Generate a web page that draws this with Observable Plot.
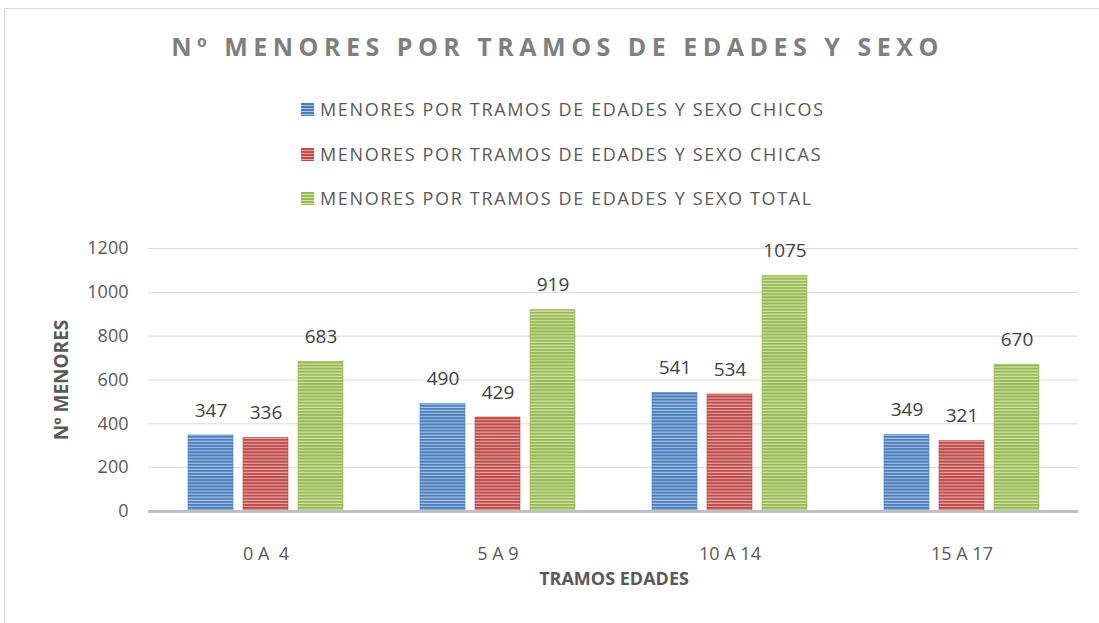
<!DOCTYPE html>
<html>
<head>
<meta charset="utf-8">
<script src="https://cdn.jsdelivr.net/npm/d3@7"></script>
<script src="https://cdn.jsdelivr.net/npm/@observablehq/plot@0.6"></script>
<style>
  html, body { margin: 0; padding: 0; background: #fff; }
  body { width: 1099px; height: 623px; position: relative; overflow: hidden; font-family: "Open Sans", sans-serif; }
  #frame { position: absolute; left: 4px; top: 8px; width: 1200px; height: 700px; border: 1px solid #d9d9d9; box-sizing: border-box; }
  #title { position: absolute; top: 29px; left: 0; width: 1115px; text-align: center; font-size: 25px; font-weight: bold; letter-spacing: 5.5px; color: #7f7f7f; }
  #legend { position: absolute; left: 301px; top: 96px; }
  .item { height: 44.5px; display: flex; align-items: flex-start; font-size: 18px; letter-spacing: 1.65px; color: #595959; line-height: 26px; }
  .sw { width: 13px; height: 13px; margin-right: 6px; margin-top: 7px; }
  #grid, #chart { position: absolute; left: 0; top: 225px; }
  svg g[aria-label="fx-axis label"] text, svg g[aria-label="y-axis label"] text { font-weight: bold; }
  svg g[aria-label="y-axis label"] text { font-size: 19px; }
</style>
</head>
<body>
<div id="frame"></div>
<div id="title">Nº MENORES POR TRAMOS DE EDADES Y SEXO</div>
<div id="legend"></div>
<div id="grid"></div>
<div id="chart"></div>
<script>
const groups = ["0 A  4", "5 A 9", "10 A 14", "15 A 17"];
const series = [
  "MENORES POR TRAMOS DE EDADES Y SEXO CHICOS",
  "MENORES POR TRAMOS DE EDADES Y SEXO CHICAS",
  "MENORES POR TRAMOS DE EDADES Y SEXO TOTAL"
];
const chicos = [347, 490, 541, 349];
const chicas = [336, 429, 534, 321];
const total = [683, 919, 1075, 670];
const yTicks = [0, 200, 400, 600, 800, 1000, 1200];

const patternIds = ["stripe-blue", "stripe-red", "stripe-green"];
const baseColors = ["#4a7ebb", "#be4b48", "#98b954"];
const lightColors = ["#a9c3e6", "#e6a9a7", "#d2e3ad"];

const seriesValues = [chicos, chicas, total];
const data = [];
groups.forEach((g, gi) => series.forEach((s, si) => data.push({group: g, serie: s, si, value: seriesValues[si][gi]})));

// legend
const legend = document.getElementById("legend");
series.forEach((s, i) => {
  const it = document.createElement("div");
  it.className = "item";
  it.innerHTML = `<svg class="sw" width="13" height="13"><defs><pattern id="lg-${i}" patternUnits="userSpaceOnUse" width="13" height="3"><rect width="13" height="3" fill="${baseColors[i]}"/><rect y="2" width="13" height="1" fill="${lightColors[i]}"/></pattern></defs><rect width="13" height="13" fill="url(#lg-${i})"/></svg><span>${s}</span>`;
  legend.appendChild(it);
});

const common = {
  width: 1099,
  height: 398,
  marginTop: 23,
  marginBottom: 112,
  marginLeft: 148,
  marginRight: 21,
  style: {fontFamily: "Open Sans, sans-serif", fontSize: "18px", color: "#595959", background: "transparent"},
  y: {domain: [0, 1200], axis: null}
};

// background: gridlines and y axis spanning the whole plot area
const grid = Plot.plot({
  ...common,
  marks: [
    Plot.ruleY(yTicks.filter(d => d > 0), {stroke: "#d9d9d9", strokeWidth: 1}),
    Plot.axisY(yTicks, {tickSize: 0, tickPadding: 20, fontSize: 18, color: "#595959", tickFormat: d => String(d), label: "Nº MENORES", labelAnchor: "center", labelArrow: "none", labelOffset: 94})
  ]
});
document.getElementById("grid").appendChild(grid);

const marks = [];
series.forEach((s, i) => {
  marks.push(Plot.barY(data.filter(d => d.si === i), {fx: "group", x: "serie", y: "value", fill: `url(#${patternIds[i]})`, stroke: baseColors[i], strokeWidth: 0.6}));
});
marks.push(
  Plot.text(data, {fx: "group", x: "serie", y: "value", text: d => String(d.value), dy: -25, fontSize: 19, fill: "#404040"}),
  Plot.axisFx({anchor: "bottom", tickSize: 0, tickPadding: 36, fontSize: 18, color: "#595959", label: "TRAMOS EDADES", labelAnchor: "center", labelArrow: "none", labelOffset: 73})
);

const chart = Plot.plot({
  ...common,
  fx: {domain: groups, paddingInner: 0.325, paddingOuter: 0.1625, label: null},
  x: {domain: series, paddingInner: 0.18, paddingOuter: 0, axis: null},
  marks
});

const ns = "http://www.w3.org/2000/svg";
const defs = document.createElementNS(ns, "defs");
patternIds.forEach((id, i) => {
  const p = document.createElementNS(ns, "pattern");
  p.setAttribute("id", id);
  p.setAttribute("patternUnits", "userSpaceOnUse");
  p.setAttribute("width", "10");
  p.setAttribute("height", "3.1");
  const r1 = document.createElementNS(ns, "rect");
  r1.setAttribute("width", "10"); r1.setAttribute("height", "3.1"); r1.setAttribute("fill", baseColors[i]);
  const r2 = document.createElementNS(ns, "rect");
  r2.setAttribute("y", "2"); r2.setAttribute("width", "10"); r2.setAttribute("height", "1.1"); r2.setAttribute("fill", lightColors[i]);
  p.appendChild(r1); p.appendChild(r2);
  defs.appendChild(p);
});
chart.insertBefore(defs, chart.firstChild);
document.getElementById("chart").appendChild(chart);

// zero baseline drawn on top (separate overlay sharing the same y scale)
const base = Plot.plot({
  ...common,
  marks: [Plot.ruleY([0], {stroke: "#bfbfbf", strokeWidth: 3})]
});
base.style.position = "absolute"; base.style.left = "0"; base.style.top = "0";
document.getElementById("chart").appendChild(base);
</script>
</body>
</html>
